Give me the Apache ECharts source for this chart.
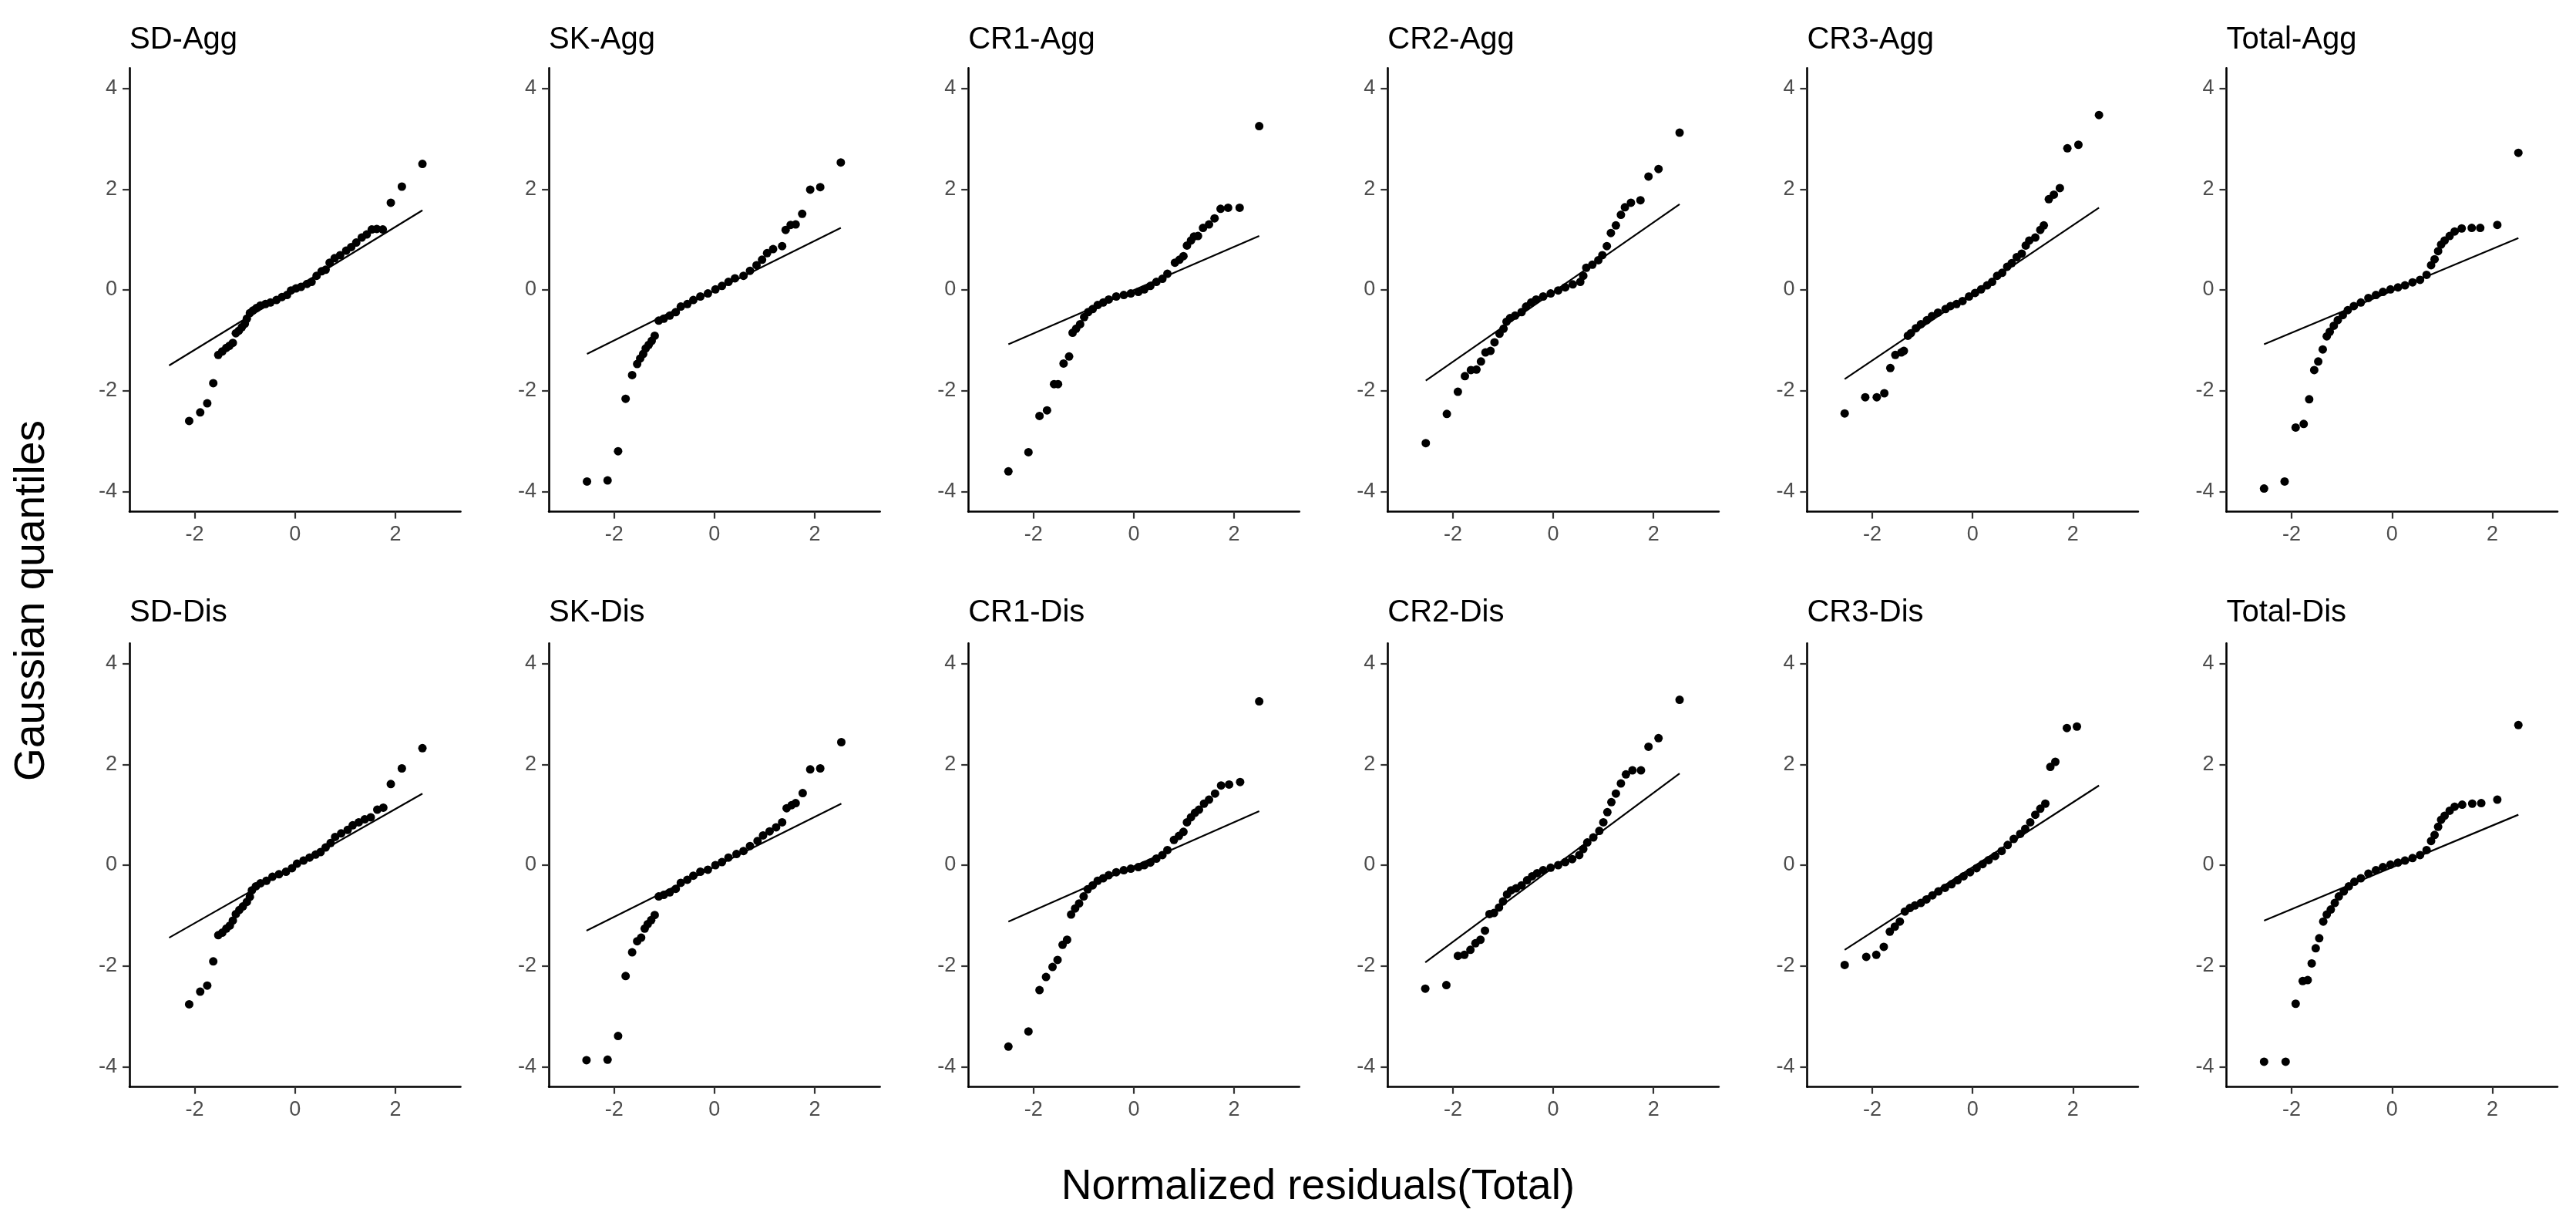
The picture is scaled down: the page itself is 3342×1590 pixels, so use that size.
<!DOCTYPE html>
<html>
<head>
<meta charset="utf-8">
<script src="https://cdn.jsdelivr.net/npm/echarts@6/dist/echarts.min.js"></script>
<style>
html,body{margin:0;padding:0;background:#fff;}
#chart{width:3342px;height:1590px;}
</style>
</head>
<body>
<div id="chart"></div>
<script>
// ---------- data ----------
const PANEL_TITLES = ['SD-Agg','SK-Agg','CR1-Agg','CR2-Agg','CR3-Agg','Total-Agg',
                      'SD-Dis','SK-Dis','CR1-Dis','CR2-Dis','CR3-Dis','Total-Dis'];
const X_TICKS = [-2, 0, 2];
const Y_TICKS = [-4, -2, 0, 2, 4];
const X_TITLE = 'Normalized residuals(Total)';
const Y_TITLE = 'Gaussian quantiles';

const SD_AGG = [[-2.11,-2.60],[-1.89,-2.43],[-1.75,-2.25],[-1.63,-1.85],[-1.53,-1.29],[-1.45,-1.22],[-1.37,-1.15],[-1.31,-1.11],[-1.24,-1.05],[-1.18,-0.86],[-1.12,-0.81],[-1.06,-0.74],[-1.00,-0.67],[-0.96,-0.57],[-0.90,-0.46],[-0.84,-0.41],[-0.77,-0.36],[-0.69,-0.31],[-0.59,-0.28],[-0.49,-0.25],[-0.37,-0.20],[-0.26,-0.14],[-0.16,-0.10],[-0.08,-0.01],[0.02,0.03],[0.12,0.06],[0.24,0.12],[0.33,0.16],[0.43,0.28],[0.53,0.37],[0.61,0.40],[0.69,0.54],[0.79,0.63],[0.90,0.69],[1.02,0.78],[1.12,0.85],[1.22,0.94],[1.33,1.04],[1.43,1.10],[1.53,1.20],[1.63,1.21],[1.75,1.20],[1.91,1.73],[2.13,2.05],[2.54,2.50]];
const SD_AGG_LINE = [[-2.51,-1.50],[2.54,1.58]];

const SK_AGG = [[-2.54,-3.80],[-2.13,-3.78],[-1.92,-3.20],[-1.77,-2.16],[-1.64,-1.69],[-1.54,-1.47],[-1.48,-1.36],[-1.42,-1.27],[-1.37,-1.16],[-1.31,-1.09],[-1.25,-1.01],[-1.19,-0.91],[-1.11,-0.61],[-1.01,-0.57],[-0.89,-0.51],[-0.77,-0.44],[-0.67,-0.33],[-0.54,-0.28],[-0.42,-0.20],[-0.28,-0.13],[-0.13,-0.07],[0.02,0.01],[0.15,0.08],[0.28,0.16],[0.41,0.23],[0.58,0.28],[0.71,0.38],[0.84,0.49],[0.95,0.60],[1.05,0.73],[1.17,0.81],[1.35,0.87],[1.42,1.19],[1.52,1.29],[1.62,1.30],[1.75,1.51],[1.91,1.99],[2.11,2.04],[2.52,2.53]];
const SK_AGG_LINE = [[-2.54,-1.27],[2.52,1.23]];

const CR1_AGG = [[-2.50,-3.60],[-2.10,-3.22],[-1.88,-2.50],[-1.73,-2.39],[-1.59,-1.87],[-1.51,-1.87],[-1.40,-1.46],[-1.29,-1.32],[-1.22,-0.85],[-1.15,-0.77],[-1.07,-0.68],[-0.99,-0.54],[-0.91,-0.44],[-0.82,-0.38],[-0.72,-0.30],[-0.61,-0.25],[-0.50,-0.19],[-0.35,-0.13],[-0.20,-0.10],[-0.06,-0.07],[0.09,-0.04],[0.21,0.01],[0.33,0.08],[0.45,0.16],[0.57,0.22],[0.67,0.32],[0.82,0.54],[0.91,0.60],[0.99,0.67],[1.06,0.88],[1.14,0.98],[1.20,1.06],[1.28,1.07],[1.38,1.23],[1.50,1.30],[1.61,1.42],[1.73,1.61],[1.88,1.63],[2.11,1.63],[2.50,3.25]];
const CR1_AGG_LINE = [[-2.50,-1.08],[2.50,1.07]];

const CR2_AGG = [[-2.54,-3.04],[-2.12,-2.46],[-1.90,-2.02],[-1.76,-1.71],[-1.64,-1.59],[-1.53,-1.58],[-1.44,-1.42],[-1.35,-1.24],[-1.25,-1.21],[-1.17,-1.04],[-1.07,-0.87],[-0.99,-0.77],[-0.93,-0.63],[-0.86,-0.56],[-0.76,-0.51],[-0.63,-0.44],[-0.54,-0.33],[-0.44,-0.25],[-0.34,-0.19],[-0.20,-0.13],[-0.05,-0.07],[0.10,-0.01],[0.24,0.05],[0.39,0.11],[0.54,0.16],[0.60,0.28],[0.66,0.44],[0.78,0.50],[0.90,0.59],[0.98,0.69],[1.07,0.87],[1.15,1.13],[1.25,1.28],[1.35,1.49],[1.43,1.64],[1.55,1.73],[1.74,1.78],[1.90,2.25],[2.10,2.40],[2.52,3.12]];
const CR2_AGG_LINE = [[-2.54,-1.80],[2.52,1.70]];

const CR3_AGG = [[-2.55,-2.45],[-2.14,-2.13],[-1.91,-2.13],[-1.76,-2.05],[-1.64,-1.55],[-1.54,-1.29],[-1.42,-1.24],[-1.37,-1.21],[-1.29,-0.91],[-1.23,-0.86],[-1.13,-0.76],[-1.03,-0.68],[-0.91,-0.60],[-0.81,-0.52],[-0.69,-0.45],[-0.54,-0.38],[-0.44,-0.32],[-0.32,-0.28],[-0.20,-0.22],[-0.07,-0.13],[0.05,-0.06],[0.17,0.01],[0.29,0.09],[0.39,0.16],[0.49,0.28],[0.59,0.34],[0.69,0.46],[0.78,0.53],[0.88,0.65],[0.98,0.72],[1.06,0.88],[1.13,0.98],[1.25,1.04],[1.35,1.19],[1.42,1.28],[1.52,1.80],[1.62,1.89],[1.74,2.02],[1.89,2.81],[2.11,2.88],[2.52,3.47]];
const CR3_AGG_LINE = [[-2.55,-1.77],[2.52,1.63]];

const TOTAL_AGG = [[-2.55,-3.94],[-2.14,-3.80],[-1.92,-2.73],[-1.76,-2.66],[-1.65,-2.17],[-1.55,-1.59],[-1.47,-1.42],[-1.38,-1.18],[-1.30,-0.92],[-1.24,-0.83],[-1.16,-0.71],[-1.08,-0.60],[-0.98,-0.50],[-0.88,-0.40],[-0.76,-0.32],[-0.62,-0.25],[-0.47,-0.16],[-0.32,-0.10],[-0.18,-0.04],[-0.03,0.01],[0.12,0.05],[0.26,0.09],[0.41,0.15],[0.56,0.20],[0.69,0.30],[0.78,0.49],[0.85,0.61],[0.92,0.77],[0.98,0.90],[1.05,0.98],[1.15,1.07],[1.25,1.16],[1.39,1.22],[1.59,1.23],[1.76,1.23],[2.10,1.29],[2.52,2.72]];
const TOTAL_AGG_LINE = [[-2.55,-1.08],[2.52,1.03]];

const SD_DIS = [[-2.11,-2.76],[-1.89,-2.51],[-1.75,-2.39],[-1.63,-1.91],[-1.53,-1.39],[-1.45,-1.34],[-1.37,-1.26],[-1.30,-1.20],[-1.24,-1.10],[-1.18,-0.97],[-1.11,-0.89],[-1.04,-0.82],[-0.96,-0.73],[-0.90,-0.63],[-0.86,-0.50],[-0.78,-0.42],[-0.69,-0.36],[-0.57,-0.31],[-0.45,-0.23],[-0.32,-0.18],[-0.18,-0.13],[-0.06,-0.06],[0.04,0.03],[0.17,0.09],[0.29,0.15],[0.41,0.21],[0.51,0.26],[0.61,0.35],[0.71,0.44],[0.80,0.56],[0.92,0.63],[1.05,0.70],[1.15,0.79],[1.27,0.85],[1.39,0.91],[1.51,0.95],[1.64,1.10],[1.76,1.14],[1.91,1.61],[2.13,1.92],[2.54,2.32]];
const SD_DIS_LINE = [[-2.51,-1.44],[2.54,1.42]];

const SK_DIS = [[-2.55,-3.87],[-2.13,-3.86],[-1.92,-3.39],[-1.77,-2.20],[-1.64,-1.73],[-1.54,-1.51],[-1.46,-1.44],[-1.39,-1.26],[-1.33,-1.17],[-1.26,-1.09],[-1.19,-0.99],[-1.11,-0.62],[-1.01,-0.59],[-0.89,-0.54],[-0.77,-0.47],[-0.67,-0.35],[-0.54,-0.29],[-0.42,-0.21],[-0.28,-0.13],[-0.13,-0.09],[0.02,0.00],[0.15,0.06],[0.28,0.15],[0.44,0.22],[0.58,0.28],[0.71,0.38],[0.86,0.48],[0.97,0.59],[1.10,0.67],[1.23,0.75],[1.35,0.85],[1.44,1.13],[1.54,1.19],[1.62,1.23],[1.76,1.43],[1.91,1.90],[2.11,1.92],[2.53,2.44]];
const SK_DIS_LINE = [[-2.55,-1.30],[2.53,1.22]];

const CR1_DIS = [[-2.50,-3.60],[-2.10,-3.30],[-1.88,-2.48],[-1.75,-2.22],[-1.62,-2.02],[-1.52,-1.88],[-1.42,-1.58],[-1.33,-1.48],[-1.25,-0.98],[-1.17,-0.86],[-1.09,-0.76],[-1.00,-0.62],[-0.92,-0.48],[-0.82,-0.40],[-0.72,-0.31],[-0.61,-0.26],[-0.50,-0.20],[-0.35,-0.14],[-0.20,-0.10],[-0.06,-0.07],[0.09,-0.04],[0.21,0.00],[0.33,0.05],[0.45,0.13],[0.57,0.20],[0.67,0.30],[0.80,0.50],[0.90,0.58],[0.99,0.66],[1.06,0.85],[1.14,0.95],[1.22,1.04],[1.30,1.10],[1.40,1.22],[1.50,1.30],[1.62,1.42],[1.74,1.58],[1.90,1.60],[2.12,1.65],[2.50,3.25]];
const CR1_DIS_LINE = [[-2.50,-1.12],[2.50,1.07]];

const CR2_DIS = [[-2.55,-2.45],[-2.13,-2.38],[-1.90,-1.80],[-1.77,-1.78],[-1.65,-1.68],[-1.55,-1.55],[-1.45,-1.48],[-1.36,-1.30],[-1.27,-0.97],[-1.18,-0.95],[-1.08,-0.84],[-1.00,-0.72],[-0.92,-0.58],[-0.84,-0.50],[-0.74,-0.46],[-0.63,-0.40],[-0.52,-0.30],[-0.42,-0.22],[-0.32,-0.16],[-0.20,-0.10],[-0.05,-0.05],[0.10,0.00],[0.24,0.06],[0.38,0.12],[0.52,0.20],[0.60,0.32],[0.68,0.45],[0.80,0.55],[0.92,0.68],[1.00,0.85],[1.08,1.05],[1.16,1.25],[1.25,1.42],[1.35,1.62],[1.45,1.80],[1.58,1.88],[1.75,1.88],[1.90,2.35],[2.10,2.52],[2.52,3.28]];
const CR2_DIS_LINE = [[-2.55,-1.93],[2.52,1.82]];

const CR3_DIS = [[-2.55,-1.98],[-2.12,-1.82],[-1.92,-1.78],[-1.77,-1.62],[-1.65,-1.32],[-1.55,-1.22],[-1.45,-1.12],[-1.35,-0.92],[-1.25,-0.85],[-1.15,-0.80],[-1.03,-0.75],[-0.92,-0.68],[-0.80,-0.60],[-0.68,-0.52],[-0.55,-0.45],[-0.42,-0.38],[-0.30,-0.30],[-0.18,-0.22],[-0.05,-0.14],[0.08,-0.06],[0.20,0.02],[0.32,0.10],[0.45,0.18],[0.58,0.28],[0.70,0.40],[0.82,0.52],[0.95,0.62],[1.05,0.72],[1.15,0.85],[1.25,1.00],[1.35,1.12],[1.45,1.22],[1.55,1.95],[1.65,2.05],[1.88,2.72],[2.08,2.75]];
const CR3_DIS_LINE = [[-2.55,-1.68],[2.52,1.58]];

const TOTAL_DIS = [[-2.55,-3.90],[-2.12,-3.90],[-1.92,-2.75],[-1.78,-2.30],[-1.68,-2.28],[-1.60,-1.95],[-1.52,-1.65],[-1.45,-1.45],[-1.37,-1.12],[-1.30,-0.98],[-1.22,-0.88],[-1.14,-0.75],[-1.06,-0.62],[-0.96,-0.52],[-0.86,-0.42],[-0.75,-0.33],[-0.62,-0.26],[-0.47,-0.17],[-0.32,-0.10],[-0.18,-0.04],[-0.03,0.01],[0.12,0.05],[0.26,0.09],[0.41,0.14],[0.56,0.20],[0.69,0.30],[0.78,0.48],[0.85,0.60],[0.92,0.76],[0.98,0.90],[1.05,0.98],[1.15,1.08],[1.25,1.16],[1.40,1.20],[1.60,1.22],[1.78,1.23],[2.10,1.30],[2.52,2.78]];
const TOTAL_DIS_LINE = [[-2.55,-1.10],[2.52,1.00]];

const POINTS = [SD_AGG, SK_AGG, CR1_AGG, CR2_AGG, CR3_AGG, TOTAL_AGG,
                SD_DIS, SK_DIS, CR1_DIS, CR2_DIS, CR3_DIS, TOTAL_DIS];
const LINES = [SD_AGG_LINE, SK_AGG_LINE, CR1_AGG_LINE, CR2_AGG_LINE, CR3_AGG_LINE, TOTAL_AGG_LINE,
               SD_DIS_LINE, SK_DIS_LINE, CR1_DIS_LINE, CR2_DIS_LINE, CR3_DIS_LINE, TOTAL_DIS_LINE];

// ---------- layout ----------
const FONT = '"Liberation Sans", Arial, Helvetica, sans-serif';
const COL_LEFT = 168, COL_STEP = 544.1, PANEL_W = 429.5, PANEL_H = 575.2;
const ROW_TOP = [88.4, 834.4];
const X_RANGE = [-3.3, 3.3], Y_RANGE = [-4.4, 4.4];

const grids = [], xAxes = [], yAxes = [], series = [], graphics = [];
for (let i = 0; i < 12; i++) {
  const r = Math.floor(i / 6), c = i % 6;
  const left = COL_LEFT + COL_STEP * c, top = ROW_TOP[r];
  grids.push({left: left, top: top, width: PANEL_W, height: PANEL_H, containLabel: false});
  const axisLine = {show: true, onZero: false, lineStyle: {color: '#000', width: 2.6}};
  const tick = (vals) => ({show: true, length: 9, customValues: vals, lineStyle: {color: '#333', width: 2.2}});
  xAxes.push({type: 'value', gridIndex: i, min: X_RANGE[0], max: X_RANGE[1],
    axisLine: axisLine, splitLine: {show: false}, axisTick: tick(X_TICKS),
    axisLabel: {customValues: X_TICKS, color: '#4D4D4D', fontSize: 27, fontFamily: FONT, margin: 16}});
  yAxes.push({type: 'value', gridIndex: i, min: Y_RANGE[0], max: Y_RANGE[1],
    axisLine: axisLine, splitLine: {show: false}, axisTick: tick(Y_TICKS),
    axisLabel: {customValues: Y_TICKS, color: '#4D4D4D', fontSize: 27, fontFamily: FONT, margin: 16}});
  series.push({type: 'line', xAxisIndex: i, yAxisIndex: i, data: LINES[i], symbol: 'none',
    lineStyle: {color: '#000', width: 2.2}, silent: true, z: 2});
  series.push({type: 'scatter', xAxisIndex: i, yAxisIndex: i, data: POINTS[i], symbol: 'circle',
    symbolSize: 11, itemStyle: {color: '#000', opacity: 1}, silent: true, z: 3});
  graphics.push({type: 'text', left: left, top: (r === 0 ? 52 : 795) - 20,
    style: {text: PANEL_TITLES[i], font: '40px ' + FONT, fill: '#000'}});
}
graphics.push({type: 'text', x: 1710, y: 1540,
  style: {text: X_TITLE, font: '55px ' + FONT, fill: '#000', align: 'center', verticalAlign: 'middle'}});
graphics.push({type: 'text', x: 42, y: 779, rotation: Math.PI / 2,
  style: {text: Y_TITLE, font: '55px ' + FONT, fill: '#000', align: 'center', verticalAlign: 'middle'}});

const chart = echarts.init(document.getElementById('chart'), null, {renderer: 'canvas', width: 3342, height: 1590});
chart.setOption({
  backgroundColor: '#fff',
  animation: false,
  grid: grids, xAxis: xAxes, yAxis: yAxes, series: series, graphic: graphics
});
</script>
</body>
</html>
